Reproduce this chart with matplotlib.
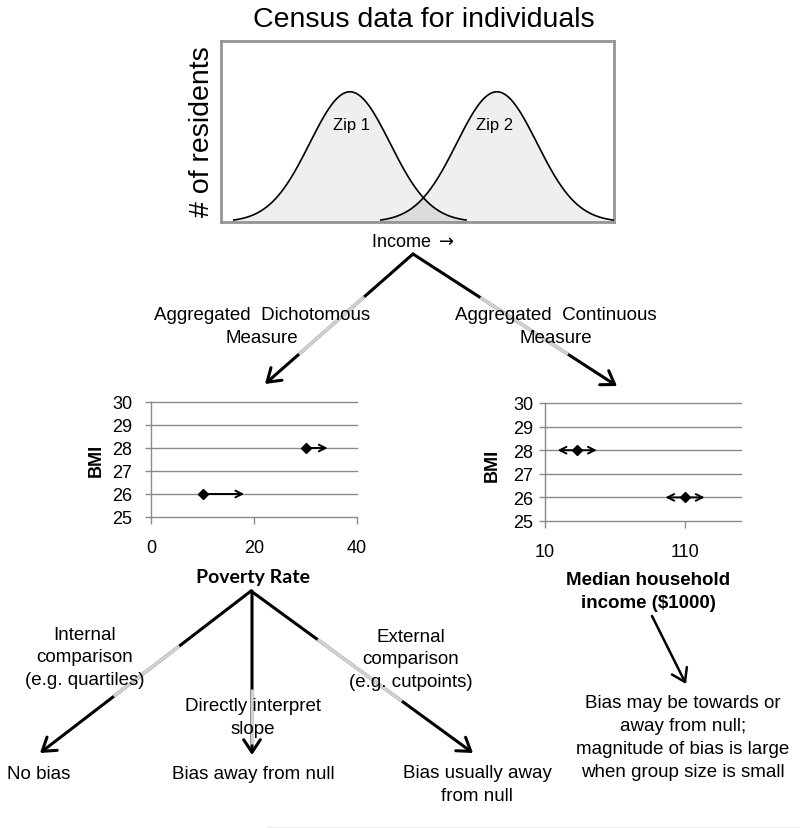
import numpy as np
import matplotlib.pyplot as plt

plt.rcParams['font.family'] = ['Liberation Sans', 'DejaVu Sans']

# income distributions of the two zip codes (arbitrary income units 0-100)
zip_names = ['Zip 1', 'Zip 2']
zip_means = [32.8, 70.2]
zip_sd = [10.2, 10.2]

# poverty rate vs BMI (point and the direction of the shift)
poverty_rate = [10, 30]
poverty_bmi = [26, 28]
poverty_shift_to = [18.1, 34.3]

# median household income vs BMI (point and +/- spread)
median_income = [33, 110]
income_bmi = [28, 26]
income_spread = [14, 14]

bmi_ticks = [25, 26, 27, 28, 29, 30]
poverty_ticks = [0, 20, 40]
income_ticks = [10, 110]

gray = '#8a8a8a'
W, H = 800, 829
LS = 1.45

fig = plt.figure(figsize=(8, 8.29), dpi=100)

# background axes in pixel coordinates for the flow diagram
bg = fig.add_axes([0, 0, 1, 1])
bg.set_xlim(0, W)
bg.set_ylim(H, 0)
bg.axis('off')


def pix(l, t, r, b):
    return [l / W, 1 - b / H, (r - l) / W, (b - t) / H]


def flow_arrow(x0, y0, x1, y1, light=None, lw=2.2, style='->,head_length=0.45,head_width=0.3'):
    bg.annotate('', xy=(x1, y1), xytext=(x0, y0),
                arrowprops=dict(arrowstyle=style, lw=lw, color='black',
                                shrinkA=0, shrinkB=0, mutation_scale=20))
    if light is not None:
        f0, f1 = light
        bg.plot([x0 + f0 * (x1 - x0), x0 + f1 * (x1 - x0)],
                [y0 + f0 * (y1 - y0), y0 + f1 * (y1 - y0)],
                color='#d0d0d0', lw=lw + 0.3, solid_capstyle='butt', zorder=3)


# ---- top panel: census distributions ----
ax = fig.add_axes(pix(221, 42, 614, 223))
x = np.linspace(0, 100, 800)
curves = []
for m, s in zip(zip_means, zip_sd):
    y = np.exp(-0.5 * ((x - m) / s) ** 2)
    y[np.abs(x - m) > 2.9 * s] = np.nan
    curves.append(y)
for y in curves:
    ax.fill_between(x, 0, y, color='#efefef', zorder=1)
overlap = np.fmin(np.nan_to_num(curves[0]), np.nan_to_num(curves[1]))
ax.fill_between(x, 0, overlap, color='#dcdcdc', zorder=2)
for y in curves:
    ax.plot(x, y, color='black', lw=1.2, zorder=3)
for name, m in zip(zip_names, zip_means):
    ax.text(m + 0.5 if name == 'Zip 1' else m - 0.5, 0.75, name, ha='center', va='center', fontsize=12)
ax.set_xlim(0, 100)
ax.set_ylim(0, 1.39)
ax.set_xticks([])
ax.set_yticks([])
for s in ax.spines.values():
    s.set_color('#959595')
    s.set_linewidth(2)

bg.text(424, 20, 'Census data for individuals', ha='center', va='center', fontsize=20.5)
bg.text(202, 132, '# of residents', ha='center', va='center', rotation=90, fontsize=20.5)
bg.text(413, 242, 'Income $\\rightarrow$', ha='center', va='center', fontsize=13)

flow_arrow(413, 255, 265, 385, light=(0.33, 0.77))
flow_arrow(413, 255, 617, 387, light=(0.33, 0.76))
bg.text(262, 327, 'Aggregated  Dichotomous\nMeasure', ha='center', va='center',
        fontsize=13.5, linespacing=LS)
bg.text(556, 327, 'Aggregated  Continuous\nMeasure', ha='center', va='center',
        fontsize=13.5, linespacing=LS)


def style_axes(a, pad_y):
    a.set_facecolor('none')
    for k in ['top', 'right', 'bottom']:
        a.spines[k].set_visible(False)
    a.spines['left'].set_color(gray)
    a.spines['left'].set_linewidth(1)
    a.tick_params(axis='x', direction='out', length=5, width=1, color=gray, pad=11, labelsize=13)
    a.tick_params(axis='y', direction='out', length=4.5, width=1, color=gray, pad=pad_y, labelsize=13)
    a.set_ylim(bmi_ticks[0], bmi_ticks[-1])
    a.set_yticks(bmi_ticks)
    for v in bmi_ticks:
        a.axhline(v, color=gray, lw=1, clip_on=False, zorder=0)


# ---- left scatter: poverty rate ----
axl = fig.add_axes(pix(151, 403, 357, 518))
style_axes(axl, 9)
axl.set_xlim(poverty_ticks[0], poverty_ticks[-1])
axl.set_xticks(poverty_ticks)
for x0, y0, x1 in zip(poverty_rate, poverty_bmi, poverty_shift_to):
    axl.annotate('', xy=(x1, y0), xytext=(x0, y0),
                 arrowprops=dict(arrowstyle='->', lw=1.4, color='black',
                                 shrinkA=0, shrinkB=0, mutation_scale=12))
axl.plot(poverty_rate, poverty_bmi, 'D', color='black', ms=5.5, ls='none', zorder=3)

bg.text(96, 460, 'BMI', ha='center', va='center', rotation=90, fontsize=13, fontweight='bold')
bg.text(253, 577, 'Poverty Rate', ha='center', va='center', fontsize=14,
        fontweight='bold', family=['Lato', 'DejaVu Sans'])

# ---- right scatter: median household income ----
axr = fig.add_axes(pix(545, 404, 741, 522))
style_axes(axr, 4)
axr.set_xlim(10, 150)
axr.set_xticks(income_ticks)
for x0, y0, d in zip(median_income, income_bmi, income_spread):
    axr.annotate('', xy=(x0 + d, y0), xytext=(x0 - d, y0),
                 arrowprops=dict(arrowstyle='<->', lw=1.4, color='black',
                                 shrinkA=0, shrinkB=0, mutation_scale=12))
axr.plot(median_income, income_bmi, 'D', color='black', ms=5.5, ls='none', zorder=3)

bg.text(492, 465, 'BMI', ha='center', va='center', rotation=90, fontsize=13, fontweight='bold')
bg.text(648, 592, 'Median household\nincome ($1000)', ha='center', va='center',
        fontsize=13.5, fontweight='bold', linespacing=LS)

# ---- bottom branches ----
flow_arrow(251, 592, 40, 754, light=(0.34, 0.65))
flow_arrow(252, 592, 252, 756, light=(0.60, 0.93))
flow_arrow(251, 592, 473, 754, light=(0.30, 0.68))
flow_arrow(652, 617, 686, 685, lw=1.8)

bg.text(85, 658, 'Internal\ncomparison\n(e.g. quartiles)', ha='center', va='center',
        fontsize=13.5, linespacing=LS)
bg.text(253, 718, 'Directly interpret\nslope', ha='center', va='center',
        fontsize=13.5, linespacing=LS)
bg.text(411, 660, 'External\ncomparison\n(e.g. cutpoints)', ha='center', va='center',
        fontsize=13.5, linespacing=LS)
bg.text(39, 775, 'No bias', ha='center', va='center', fontsize=13.5)
bg.text(253, 775, 'Bias away from null', ha='center', va='center', fontsize=13.5)
bg.text(477, 785, 'Bias usually away\nfrom null', ha='center', va='center',
        fontsize=13.5, linespacing=LS)
bg.text(683, 738, 'Bias may be towards or\naway from null;\nmagnitude of bias is large\n'
        'when group size is small', ha='center', va='center', fontsize=13.5, linespacing=LS)

bg.plot([267, 800], [828, 828], color='#eeeeee', lw=1)

fig.savefig('out.png', dpi=100)
